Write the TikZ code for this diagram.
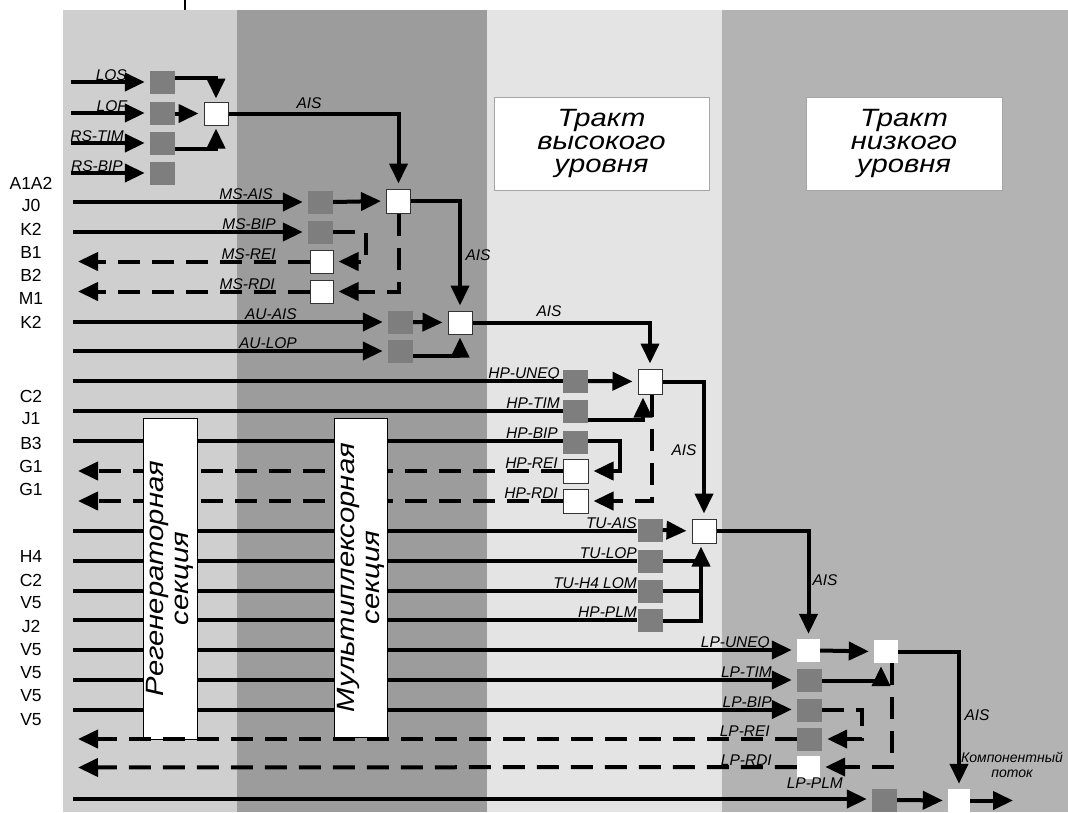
\documentclass[tikz,border=0pt]{standalone}
\usepackage{fontspec}
\setmainfont{Liberation Sans}
\newfontfamily\widefont{Liberation Sans}[FakeStretch=1.17]
\usetikzlibrary{arrows.meta,calc}
\definecolor{bandA}{HTML}{CFCFCF}
\definecolor{bandB}{HTML}{9C9C9C}
\definecolor{bandC}{HTML}{E4E4E4}
\definecolor{bandD}{HTML}{B3B3B3}
\definecolor{sqgray}{HTML}{7E7E7E}
\begin{document}
\begin{tikzpicture}[x=1pt,y=-1pt,
  >={Triangle[length=20pt,width=18pt]},
  ln/.style={line width=4pt},
  ar/.style={ln,->,shorten >=5pt},
  da/.style={ln,dash pattern=on 22pt off 12pt},
  dar/.style={da,->,shorten >=5pt},
  gsq/.style={rectangle,fill=sqgray,minimum width=25pt,minimum height=23pt,inner sep=0pt},
  wsq/.style={rectangle,fill=white,draw=black!80,line width=1pt,minimum width=23pt,minimum height=23pt,inner sep=0pt},
  wsqn/.style={rectangle,fill=white,minimum width=23pt,minimum height=23pt,inner sep=0pt},
  lab/.style={font=\fontsize{15.5pt}{15.5pt}\selectfont\itshape,inner sep=0pt,anchor=base east},
  sig/.style={font=\fontsize{17.5pt}{17.5pt}\selectfont,inner sep=0pt},
  ais/.style={font=\fontsize{15.5pt}{15.5pt}\selectfont\itshape,inner sep=0pt},
  tbox/.style={rectangle,fill=white,draw=black!35,line width=0.8pt,align=center,inner sep=0pt,
    font=\widefont\itshape\fontsize{25pt}{23pt}\selectfont},
  vbox/.style={rectangle,fill=white,draw=black,line width=1pt,inner sep=0pt},
  vtext/.style={rotate=90,align=center,inner sep=0pt,font=\widefont\itshape\fontsize{25pt}{25pt}\selectfont}
]
\useasboundingbox (0,0) rectangle (1068,812);
\fill[white] (0,0) rectangle (1068,812);
% bands
\fill[bandA] (63,10) rectangle (237,812);
\fill[bandB] (237,10) rectangle (487,812);
\fill[bandC] (487,10) rectangle (722,812);
\fill[bandD] (722,10) rectangle (1068,812);
\draw[line width=1.2pt] (185,0) -- (185,10);

% titles
\node[tbox,minimum width=215pt,minimum height=93pt] (thigh) at (601.5,143.5) {Тракт\\высокого\\уровня};
\node[tbox,minimum width=196pt,minimum height=93pt] (tlow) at (904,143.5) {Тракт\\низкого\\уровня};

% signal names
\foreach \t/\yy [count=\i] in {A1A2/183,J0/205,K2/229,B1/252,B2/275,M1/298,K2/322,C2/396,J1/419,B3/443,G1/466,G1/489,H4/556,C2/580,V5/603,J2/626,V5/650,V5/673,V5/696,V5/720}
  \node[sig] (sig\i) at (31,\yy) {\t};

% input / output coordinates
\coordinate (iLOS) at (71,82);
\coordinate (iLOF) at (71,113);
\coordinate (iRSTIM) at (71,143);
\coordinate (iRSBIP) at (71,173);
\coordinate (iJ0) at (73,202);
\coordinate (iK2) at (73,232);
\coordinate (oMSREI) at (73,261.5);
\coordinate (oMSRDI) at (73,291.5);
\coordinate (iAUAIS) at (73,322);
\coordinate (iAULOP) at (73,351);
\coordinate (iHPUNEQ) at (73,381);
\coordinate (iHPTIM) at (73,411);
\coordinate (iHPBIP) at (73,441);
\coordinate (oHPREI) at (73,471);
\coordinate (oHPRDI) at (73,501);
\coordinate (iTUAIS) at (73,530.5);
\coordinate (iTULOP) at (73,561);
\coordinate (iTUH4) at (73,591);
\coordinate (iHPPLM) at (73,620);
\coordinate (iLPUNEQ) at (73,650);
\coordinate (iLPTIM) at (73,680);
\coordinate (iLPBIP) at (73,709.5);
\coordinate (oLPREI) at (73,739);
\coordinate (oLPRDI) at (73,767.5);
\coordinate (iLPPLM) at (73,799);
\coordinate (oFIN) at (1013,800.5);

% regenerator section
\node[gsq] (sLOS) at (162.5,82.5) {};
\node[gsq] (sLOF) at (162.5,113.5) {};
\node[gsq] (sRSTIM) at (162.5,143.5) {};
\node[gsq] (sRSBIP) at (162.5,173.5) {};
\node[wsq,minimum width=24pt] (OR1) at (216,113.5) {};
\draw[ar] (iLOS) -- (iLOS -| sLOS.west);
\draw[ar] (iLOF) -- (iLOF -| sLOF.west);
\draw[ar] (iRSTIM) -- (iRSTIM -| sRSTIM.west);
\draw[ar] (iRSBIP) -- (iRSBIP -| sRSBIP.west);
\node[lab] (lLOS) at (127,80) {LOS};
\node[lab] (lLOF) at (127,111) {LOF};
\node[lab] (lRSTIM) at (124,141) {RS-TIM};
\node[lab] (lRSBIP) at (123,171) {RS-BIP};
\draw[ar,shorten >=3pt] ($(sLOS.east)+(0,-5)$) -| (OR1.north);
\draw[ar] (sLOF.east) -- (OR1.west);
\draw[ar,shorten >=3pt] ($(sRSTIM.east)+(0,5)$) -| (OR1.south);

% multiplexer section
\node[gsq] (sMSAIS) at (320.5,202) {};
\node[gsq] (sMSBIP) at (320.5,232) {};
\node[wsq] (MSREI) at (321.5,261.5) {};
\node[wsq] (MSRDI) at (321.5,291.5) {};
\node[wsq,minimum width=24pt,minimum height=24pt] (MS) at (398.5,201) {};
\draw[ar] (OR1.east) -| (MS.north);
\node[ais] (aisA) at (309,103) {AIS};
\draw[ar] (iJ0) -- (iJ0 -| sMSAIS.west);
\draw[ar] (iK2) -- (iK2 -| sMSBIP.west);
\node[lab] (lMSAIS) at (273,199.5) {MS-AIS};
\node[lab] (lMSBIP) at (276,229.5) {MS-BIP};
\node[lab] (lMSREI) at (276,259) {MS-REI};
\node[lab] (lMSRDI) at (275,289) {MS-RDI};
\draw[ar] (sMSAIS.east) -- (MS.west);
\draw[dar] (sMSBIP.east) -- ++(33,0) |- (MSREI.east);
\draw[dar] (MS.south) |- (MSRDI.east);
\draw[dar] (MSREI.west) -- (oMSREI);
\draw[dar] (MSRDI.west) -- (oMSRDI);

\node[gsq] (sAUAIS) at (400.5,322) {};
\node[gsq] (sAULOP) at (400.5,351) {};
\node[wsq,minimum width=24pt] (AU) at (460,322.5) {};
\draw[ar] (MS.east) -| (AU.north);
\node[ais] (aisB) at (478,255) {AIS};
\draw[ar] (iAUAIS) -- (iAUAIS -| sAUAIS.west);
\draw[ar] (iAULOP) -- (iAULOP -| sAULOP.west);
\node[lab] (lAUAIS) at (297,319.5) {AU-AIS};
\node[lab] (lAULOP) at (297,348.5) {AU-LOP};
\draw[ar] (sAUAIS.east) -- (AU.west);
\draw[ar,shorten >=3pt] ($(sAULOP.east)+(0,5)$) -| (AU.south);

% high order path
\node[gsq] (sHPUNEQ) at (575.5,381) {};
\node[gsq] (sHPTIM) at (575.5,411) {};
\node[gsq] (sHPBIP) at (575.5,442) {};
\node[wsq,minimum width=25pt,minimum height=24pt] (HPREI) at (575.5,471) {};
\node[wsq,minimum width=25pt,minimum height=24pt] (HPRDI) at (575.5,501) {};
\node[wsq,minimum width=24pt,minimum height=25pt] (HP) at (650,381.5) {};
\draw[ar] (AU.east) -| (HP.north);
\node[ais] (aisC) at (549,311) {AIS};
\draw[ln] (iHPUNEQ) -- (iHPUNEQ -| sHPUNEQ.west);
\draw[ln] (iHPTIM) -- (iHPTIM -| sHPTIM.west);
\draw[ln] (iHPBIP) -- (iHPBIP -| sHPBIP.west);
\node[lab] (lHPUNEQ) at (560,378.5) {HP-UNEQ};
\node[lab] (lHPTIM) at (560,408.5) {HP-TIM};
\node[lab] (lHPBIP) at (558,438.5) {HP-BIP};
\node[lab] (lHPREI) at (558,468.5) {HP-REI};
\node[lab] (lHPRDI) at (558,498.5) {HP-RDI};
\draw[ar] (sHPUNEQ.east) -- (HP.west);
\draw[ar,shorten >=3pt] ($(sHPTIM.east)+(0,9)$) -| ([xshift=-7pt]HP.south);
\draw[ar] ($(sHPBIP.east)+(0,-1)$) -- ++(32,0) |- (HPREI.east);
\draw[dar] ([xshift=2pt]HP.south) |- (HPRDI.east);
\draw[dar] (HPREI.west) -- (oHPREI);
\draw[dar] (HPRDI.west) -- (oHPRDI);

\node[gsq] (sTUAIS) at (650,530) {};
\node[gsq] (sTULOP) at (650,561) {};
\node[gsq] (sTUH4) at (650,591) {};
\node[gsq] (sHPPLM) at (650,620.5) {};
\node[wsq,minimum width=24pt,minimum height=24pt] (TU) at (704,531) {};
\coordinate (TUin) at ([xshift=-3pt]TU.south);
\draw[ar] (HP.east) -| (TU.north);
\node[ais] (aisD) at (684,450) {AIS};
\draw[ln] (iTUAIS) -- (iTUAIS -| sTUAIS.west);
\draw[ln] (iTULOP) -- (iTULOP -| sTULOP.west);
\draw[ln] (iTUH4) -- (iTUH4 -| sTUH4.west);
\draw[ln] (iHPPLM) -- (iHPPLM -| sHPPLM.west);
\node[lab] (lTUAIS) at (637,528) {TU-AIS};
\node[lab] (lTULOP) at (637,558.5) {TU-LOP};
\node[lab] (lTUH4) at (637,588.5) {TU-H4 LOM};
\node[lab] (lHPPLM) at (637,617.5) {HP-PLM};
\draw[ar] (sTUAIS.east) -- (TU.west);
\draw[ln] (sTULOP.east) -- (sTULOP.east -| TUin);
\draw[ln] (sTUH4.east) -- (sTUH4.east -| TUin);
\draw[ar,shorten >=3pt] (sHPPLM.east) -| (TUin);

% low order path
\node[wsqn] (LPUNEQ) at (808.5,650.5) {};
\node[gsq] (sLPTIM) at (809.5,680.5) {};
\node[gsq] (sLPBIP) at (809.5,710) {};
\node[gsq] (sLPREI) at (809.5,739) {};
\node[wsqn] (LPRDI) at (808.5,767) {};
\node[wsqn,minimum width=24pt] (LP2) at (886,651.5) {};
\node[gsq] (sLPPLM) at (884.5,800) {};
\node[wsqn,minimum width=22pt] (FIN) at (959,800.5) {};
\draw[ar] (TU.east) -| (LPUNEQ.north);
\node[ais] (aisE) at (825,580) {AIS};
\draw[ar] (iLPUNEQ) -- (iLPUNEQ -| LPUNEQ.west);
\draw[ar] (iLPTIM) -- (iLPTIM -| sLPTIM.west);
\draw[ar] (iLPBIP) -- (iLPBIP -| sLPBIP.west);
\draw[ar] (iLPPLM) -- (iLPPLM -| sLPPLM.west);
\node[lab] (lLPUNEQ) at (770,647.5) {LP-UNEQ};
\node[lab] (lLPTIM) at (772,677.5) {LP-TIM};
\node[lab] (lLPBIP) at (772,707) {LP-BIP};
\node[lab] (lLPREI) at (770,736.5) {LP-REI};
\node[lab] (lLPRDI) at (772,765) {LP-RDI};
\node[lab] (lLPPLM) at (843,788) {LP-PLM};
\draw[ar] (LPUNEQ.east) -- (LP2.west);
\draw[ar,shorten >=3pt] (sLPTIM.east) -| ([xshift=-5pt]LP2.south);
\draw[dar] (sLPBIP.east) -- ++(40,0) |- (sLPREI.east);
\draw[dar] ([xshift=6pt]LP2.south) |- (LPRDI.east);
\draw[ar] (LP2.east) -| (FIN.north);
\node[ais] (aisF) at (977,715) {AIS};
\draw[ar] (sLPPLM.east) -- (FIN.west);
\draw[ar,shorten >=0pt] (FIN.east) -- (oFIN);
\node[ais,align=center,font=\fontsize{14pt}{15pt}\selectfont\itshape] (comp) at (1012,765) {Компонентный\\поток};

% section boxes (over the lines)
\node[vbox,minimum width=54pt,minimum height=321pt] (regen) at (170,578.5) {};
\node[vtext] (regenT) at (regen.center) {Регенераторная\\секция};
\node[vbox,minimum width=53pt,minimum height=319pt] (mux) at (360.5,577.5) {};
\node[vtext] (muxT) at (mux.center) {Мультиплексорная\\секция};

\draw[dar] (sLPREI.west) -- (oLPREI);
\draw[dar] (LPRDI.west) -- (oLPRDI);
\end{tikzpicture}
\end{document}
